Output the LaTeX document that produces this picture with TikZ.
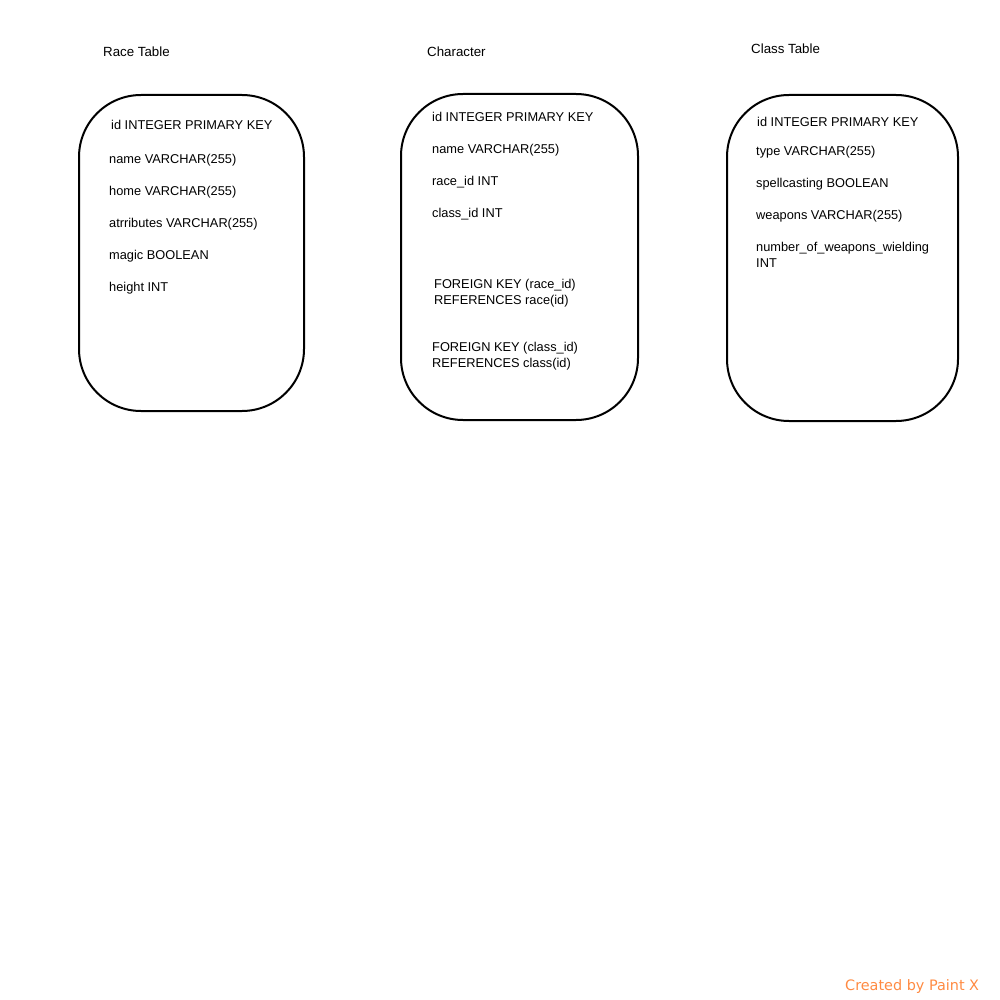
\documentclass[tikz,border=0pt]{standalone}
\usepackage{fontspec}
\setmainfont{Liberation Sans}
\newfontfamily\paintfont{DejaVu Sans}
\usepackage{tikz}
\usetikzlibrary{positioning}

\definecolor{paintorange}{RGB}{255,138,66}

\tikzset{
  tablebox/.style={draw, line width=2pt, rounded corners=62pt},
  field/.style={anchor=base west, inner sep=0pt, align=left,
    font=\fontsize{12.8}{15.8}\selectfont},
  tabletitle/.style={anchor=base west, inner sep=0pt, font=\fontsize{13.3}{15}\selectfont}
}

\begin{document}
\begin{tikzpicture}[x=1pt,y=-1pt]
      \useasboundingbox (0,0) rectangle (1000,1000);

      % the three tables
      \node[tablebox, minimum width=225pt, minimum height=316pt] (race) at (191.5,253) {};
      \node[tablebox, minimum width=237pt, minimum height=326pt] (character) at (519.5,257) {};
      \node[tablebox, minimum width=231pt, minimum height=326pt] (class) at (842.5,258) {};

      \node[tabletitle] (race title) at (103,56.5) {Race Table};
      \node[tabletitle] (character title) at (427,56.5) {Character};
      \node[tabletitle] (class title) at (751,53.5) {Class Table};

      \foreach \x/\y/\t [count=\i] in {111/125/id INTEGER PRIMARY KEY, 109/159/name VARCHAR(255),
          109/191/home VARCHAR(255), 109/223/atrributes VARCHAR(255),
          109/255/magic BOOLEAN, 109/287/height INT}{
        \node[field] (race-\i) at (\x,\y+4.5) {\t};
      }

      \foreach \x/\y/\t [count=\i] in {432/117/id INTEGER PRIMARY KEY, 432/149/name VARCHAR(255),
          432/181/race\_id INT, 432/213/class\_id INT}{
        \node[field] (character-\i) at (\x,\y+4.5) {\t};
      }
      % two-line fields sit on the baseline of their last line
      \node[field] (race fk) at (434,304.5) {FOREIGN KEY (race\_id)\\REFERENCES race(id)};
      \node[field] (class fk) at (432,367.5) {FOREIGN KEY (class\_id)\\REFERENCES class(id)};

      \foreach \x/\y/\t [count=\i] in {757/122/id INTEGER PRIMARY KEY, 756/151/type VARCHAR(255),
          756/183/spellcasting BOOLEAN, 756/215/weapons VARCHAR(255)}{
        \node[field] (class-\i) at (\x,\y+4.5) {\t};
      }
      \node[field] (class-5) at (756,267.5) {number\_of\_weapons\_wielding\\INT};

      \node[anchor=base west, inner sep=0pt, text=paintorange,
        font=\paintfont\fontsize{14.4}{16}\selectfont] (credit) at (845,990.5) {Created by Paint X};
\end{tikzpicture}
\end{document}
